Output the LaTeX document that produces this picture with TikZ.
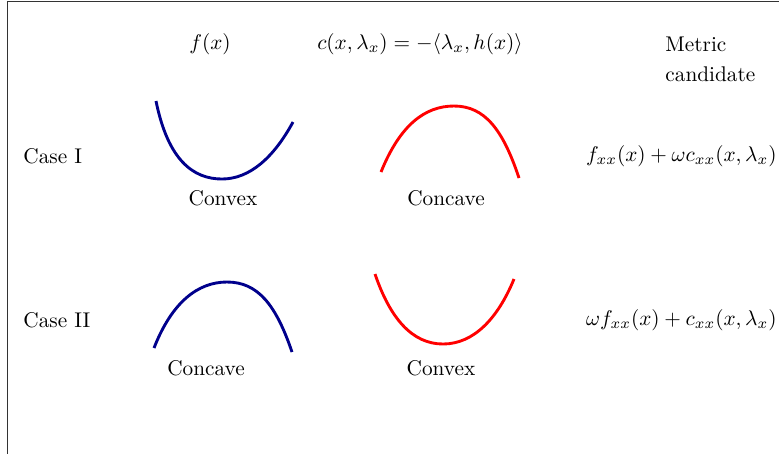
\documentclass[tikz,border=0pt]{standalone}
\usepackage{amsmath}
\begin{document}
\begin{tikzpicture}[x=0.47pt,y=-0.47pt,
  lbl/.style={inner sep=0pt,font=\normalsize},
  fcurve/.style={line width=1.35pt,color=fblue},
  ccurve/.style={line width=1.35pt,color=red}]
\definecolor{fblue}{rgb}{0,0,0.55}
\useasboundingbox (0,0) rectangle (779,453);
\draw[line width=0.5pt,black!80] (7.5,470) -- (7.5,1.5) -- (800,1.5);
% headers
\node[lbl] (hf) at (210,44) {$f(x)$};
\node[lbl] (hc) at (420,44) {$c(x,\lambda_x) = -\langle \lambda_x, h(x)\rangle$};
\node[lbl,anchor=west] (hm1) at (665,44) {Metric};
\node[lbl,anchor=west] (hm2) at (665,74) {candidate};
% rows
\node[lbl,anchor=west] (c1) at (23,156) {Case I};
\node[lbl,anchor=west] (c2) at (23,320) {Case II};
% case I curves
\draw[fcurve] (156,101) .. controls (168,160) and (193,179) .. (222,179)
  .. controls (250,179) and (274,157) .. (293,122);
\draw[ccurve] (381,172) .. controls (400,125) and (425,106) .. (454,106)
  .. controls (485,106) and (503,130) .. (519,178);
\node[lbl] (l1a) at (223,198) {Convex};
\node[lbl] (l1b) at (446,198) {Concave};
% case II curves
\draw[fcurve] (154,348) .. controls (172,302) and (198,282) .. (227,282)
  .. controls (258,282) and (276,305) .. (292,352);
\draw[ccurve] (375,274) .. controls (390,318) and (412,344) .. (443,344)
  .. controls (474,344) and (498,318) .. (514,279);
\node[lbl] (l2a) at (206,368) {Concave};
\node[lbl] (l2b) at (441,368) {Convex};
% metrics
\node[lbl,anchor=east] (m1) at (777,156) {$f_{xx}(x) + \omega c_{xx}(x,\lambda_x)$};
\node[lbl,anchor=east] (m2) at (777,320) {$\omega f_{xx}(x) + c_{xx}(x,\lambda_x)$};
\end{tikzpicture}
\end{document}
